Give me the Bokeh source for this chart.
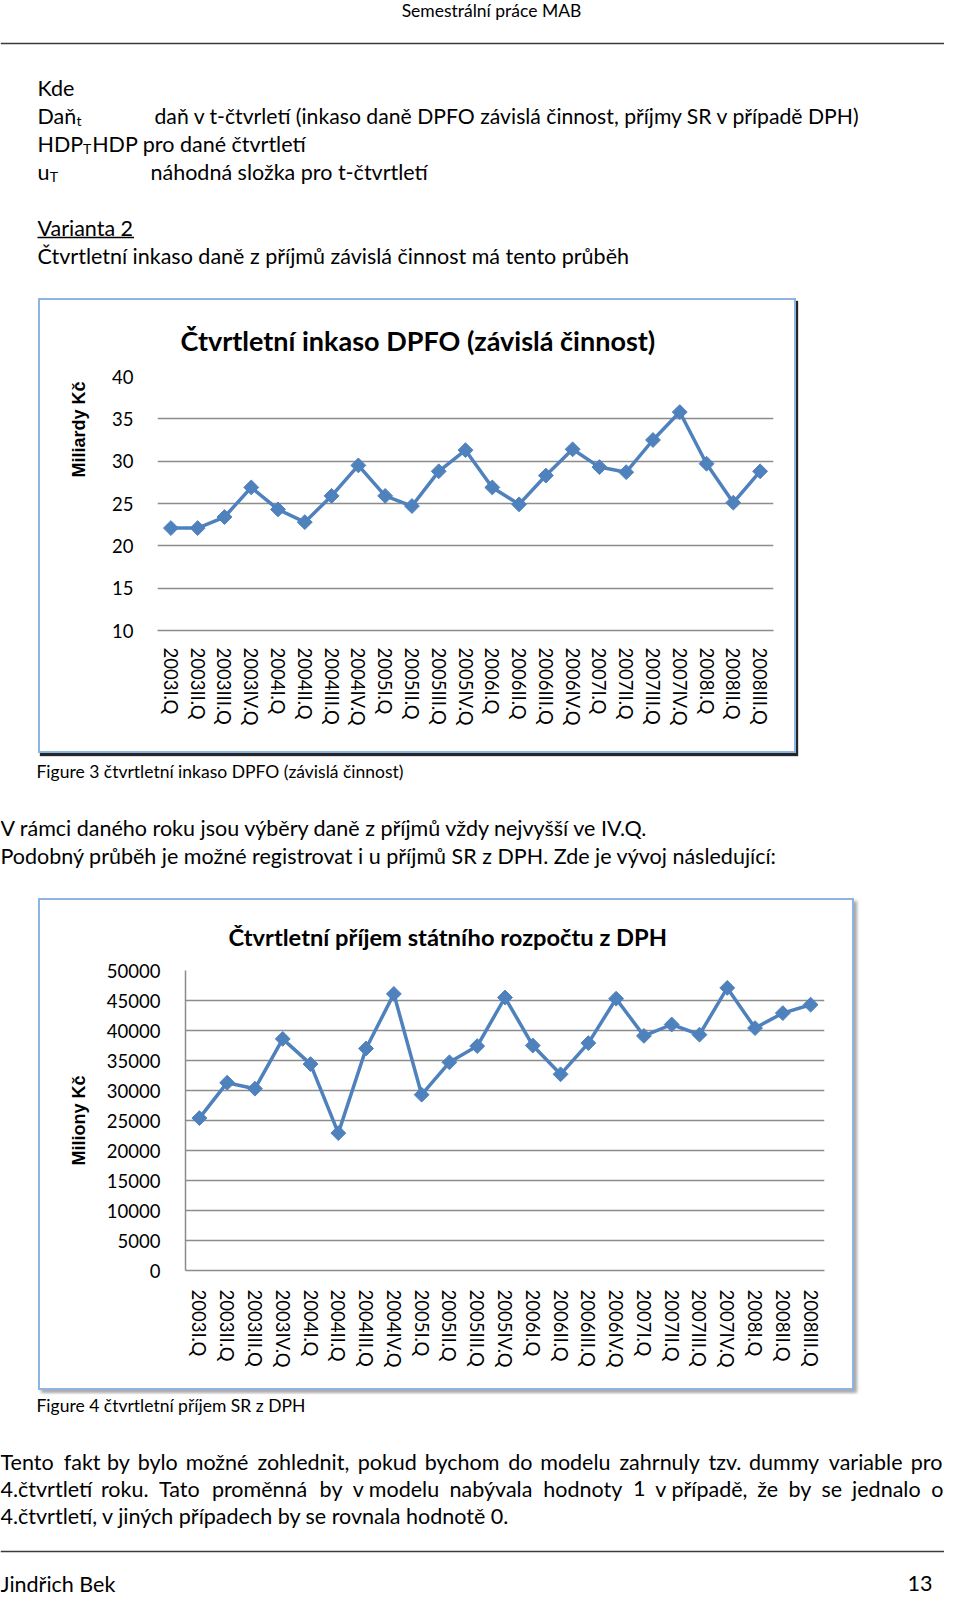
import math
import unicodedata
from bokeh.plotting import figure
from bokeh.models import Range1d, FactorRange, FixedTicker, Spacer, Title
from bokeh.layouts import column, row
from bokeh.core.properties import value
from bokeh.embed import file_html
from bokeh.resources import INLINE

# ---------------- data ----------------
quarters = ["2003I.Q", "2003II.Q", "2003III.Q", "2003IV.Q",
            "2004I.Q", "2004II.Q", "2004III.Q", "2004IV.Q",
            "2005I.Q", "2005II.Q", "2005III.Q", "2005IV.Q",
            "2006I.Q", "2006II.Q", "2006III.Q", "2006IV.Q",
            "2007I.Q", "2007II.Q", "2007III.Q", "2007IV.Q",
            "2008I.Q", "2008II.Q", "2008III.Q"]
dpfo_values = [22.1, 22.1, 23.4, 26.9, 24.3, 22.8, 25.9, 29.5, 25.9, 24.7, 28.8, 31.3,
               26.9, 24.9, 28.3, 31.4, 29.3, 28.7, 32.5, 35.8, 29.7, 25.1, 28.8]
dph_values = [25400, 31300, 30300, 38600, 34400, 22900, 37000, 46100, 29300, 34700, 37400, 45500,
              37500, 32700, 37900, 45300, 39100, 41000, 39300, 47100, 40400, 42900, 44300]
dpfo_ticks = [10, 15, 20, 25, 30, 35, 40]
dph_ticks = [0, 5000, 10000, 15000, 20000, 25000, 30000, 35000, 40000, 45000, 50000]

title1 = "Čtvrtletní inkaso DPFO (závislá činnost)"
title2 = "Čtvrtletní příjem státního rozpočtu z DPH"
ylabel1 = "Miliardy Kč"
ylabel2 = "Miliony Kč"

# ---------------- styles ----------------
FONT = "Lato"
BODY = 21.5
SMALL = 17.5
W = 944
LINE_COLOR = "#4F81BD"
GRID_COLOR = "#8C8C8C"

LATO = {
    'a': .50, 'b': .57, 'c': .46, 'd': .57, 'e': .53, 'f': .32, 'g': .51, 'h': .57, 'i': .24,
    'j': .24, 'k': .50, 'l': .24, 'm': .86, 'n': .57, 'o': .57, 'p': .57, 'q': .57, 'r': .38,
    's': .43, 't': .35, 'u': .57, 'v': .51, 'w': .78, 'x': .50, 'y': .51, 'z': .46,
    'A': .68, 'B': .65, 'C': .68, 'D': .74, 'E': .57, 'F': .55, 'G': .73, 'H': .76, 'I': .28,
    'J': .38, 'K': .67, 'L': .50, 'M': .92, 'N': .76, 'O': .80, 'P': .62, 'Q': .80, 'R': .64,
    'S': .52, 'T': .58, 'U': .74, 'V': .68, 'W': 1.0, 'X': .66, 'Y': .62, 'Z': .60,
    '.': .22, ',': .22, ' ': .19, '(': .30, ')': .30, '-': .34, ':': .22,
}


def est(s, size):
    total = 0.0
    for ch in s:
        base = unicodedata.normalize("NFD", ch)[0]
        if base.isdigit():
            total += .58
        else:
            total += LATO.get(base, .55)
    return total * size


def text_fig(h):
    p = figure(width=W, height=h, x_range=Range1d(0, W), y_range=Range1d(h, 0),
               x_axis_type=None, y_axis_type=None, output_backend="svg",
               toolbar_location=None, min_border=0)
    p.outline_line_color = None
    p.background_fill_color = "white"
    p.border_fill_color = "white"
    return p


def put(p, x, y, s, size=BODY, align="left", bold=False):
    p.text(x=[x], y=[y], text=[s], text_font=value(FONT), text_font_size=f"{size}px",
           text_align=align, text_baseline="middle", text_color="black",
           text_font_style="bold" if bold else "normal")


def put_sub(p, x, y, base, sub, size=BODY):
    put(p, x, y, base, size)
    sx = x + est(base, size)
    put(p, sx, y + 5, sub, 14)
    return sx + est(sub, 14)


def justify(p, units, y, left, right, size=BODY):
    widths = [est(u, size) for u in units]
    gap = (right - left - sum(widths)) / (len(units) - 1)
    xs = []
    x = left
    for w in widths:
        xs.append(x)
        x += w + gap
    p.text(x=xs, y=[y] * len(units), text=units, text_font=value(FONT),
           text_font_size=f"{size}px", text_align="left", text_baseline="middle",
           text_color="black")


def hrule(p, y, x0=0, x1=W, color="#3a3a3a", width=1.5):
    p.segment(x0=[x0], y0=[y], x1=[x1], y1=[y], line_color=color, line_width=width)


# ---------------- segment 1: header text ----------------
s1 = text_fig(298)
put(s1, 491, 10, "Semestrální práce MAB", SMALL, align="center")
hrule(s1, 43)
put(s1, 37, 87, "Kde")
put_sub(s1, 37, 115, "Daň", "t")
put(s1, 154, 115, "daň v t-čtvrletí (inkaso daně DPFO závislá činnost, příjmy SR v případě DPH)",
    21.2)
nx = put_sub(s1, 37, 143, "HDP", "T")
put(s1, nx + 1, 143, "HDP pro dané čtvrtletí")
put_sub(s1, 37, 171, "u", "T")
put(s1, 150, 171, "náhodná složka pro t-čtvrtletí")
put(s1, 37, 227, "Varianta 2")
hrule(s1, 237, 37, 37 + est("Varianta 2", BODY), color="black", width=1.3)
put(s1, 37, 255, "Čtvrtletní inkaso daně z příjmů závislá činnost má tento průběh")


# ---------------- charts ----------------
def make_chart(width, height, mins, yr, ticks, vals, title, title_size, title_offset,
               title_standoff, yaxis_line, xlab_standoff):
    left, right, top, bottom = mins
    p = figure(width=width, height=height,
               x_range=FactorRange(*quarters), y_range=Range1d(*yr),
               output_backend="svg", toolbar_location=None,
               min_border_left=left, min_border_right=right,
               min_border_top=top, min_border_bottom=bottom)
    p.outline_line_color = None
    p.background_fill_color = "white"
    p.border_fill_color = "white"
    p.xgrid.visible = False
    p.ygrid.grid_line_color = GRID_COLOR
    p.ygrid.grid_line_width = 1.5
    p.yaxis.ticker = FixedTicker(ticks=ticks)
    for ax in (p.xaxis[0], p.yaxis[0]):
        ax.major_tick_out = 0
        ax.major_tick_in = 0
        ax.minor_tick_out = 0
        ax.minor_tick_in = 0
        ax.major_label_text_font = FONT
        ax.major_label_text_font_size = "18.5px"
        ax.major_label_text_color = "black"
    p.xaxis.axis_line_color = GRID_COLOR
    p.xaxis.axis_line_width = 1.5
    p.xaxis.major_label_orientation = "vertical"
    p.xaxis.major_label_standoff = xlab_standoff
    p.yaxis.major_label_standoff = 24
    if yaxis_line:
        p.yaxis.axis_line_color = GRID_COLOR
        p.yaxis.axis_line_width = 1.5
    else:
        p.yaxis.axis_line_color = None

    p.line(x=quarters, y=vals, line_color=LINE_COLOR, line_width=3.5)
    p.scatter(x=quarters, y=vals, marker="square", angle=math.pi / 4, size=10.5,
              fill_color=LINE_COLOR, line_color=LINE_COLOR)

    p.title.text = title
    p.title.align = "left"
    p.title.offset = title_offset
    p.title.standoff = title_standoff
    p.title.text_font = FONT
    p.title.text_font_style = "bold"
    p.title.text_font_size = f"{title_size}px"
    p.title.text_color = "black"
    return p


c1 = make_chart(758, 455, (117, 25, 76, 125), (10, 40), dpfo_ticks, dpfo_values,
                title1, 27, 23, 40, False, 17)
c1.add_layout(Title(text=ylabel1, align="right", offset=5, standoff=42,
                    text_font="Liberation Sans", text_font_style="bold",
                    text_font_size="18px", text_color="black"), "left")
c1.styles = {"border": "2px solid #8EB4E3", "box-shadow": "2px 3px 1px rgba(0,0,0,0.85)"}

c2 = make_chart(816, 492, (145, 32, 70, 122), (0, 50000), dph_ticks, dph_values,
                title2, 23.7, 43, 39, True, 19)
c2.yaxis.axis_label = ylabel2
c2.yaxis.axis_label_text_font = "Liberation Sans"
c2.yaxis.axis_label_text_font_style = "bold"
c2.yaxis.axis_label_text_font_size = "18px"
c2.yaxis.axis_label_text_color = "black"
c2.yaxis.axis_label_standoff = 15
c2.yaxis.major_label_standoff = 25
c2.styles = {"border": "2px solid #8EB4E3", "box-shadow": "3px 3px 3px rgba(0,0,0,0.35)"}

# ---------------- segment 3 ----------------
s3 = text_fig(141)
put(s3, 36, 14, "Figure 3 čtvrtletní inkaso DPFO (závislá činnost)", SMALL)
put(s3, 0, 70, "V rámci daného roku jsou výběry daně z příjmů vždy nejvyšší ve IV.Q.")
put(s3, 0, 98, "Podobný průběh je možné registrovat i u příjmů SR z DPH.  Zde je vývoj následující:")

# ---------------- segment 5 ----------------
s5 = text_fig(203)
put(s5, 36, 11, "Figure 4 čtvrtletní příjem SR z DPH", SMALL)
line1 = ["Tento", "fakt", "by", "bylo", "možné", "zohlednit,", "pokud", "bychom", "do",
         "modelu", "zahrnuly", "tzv.", "dummy", "variable", "pro"]
line2 = ["4.čtvrtletí", "roku.", "Tato", "proměnná", "by", "v modelu", "nabývala", "hodnoty",
         "1", "v případě,", "že", "by", "se", "jednalo", "o"]
justify(s5, line1, 67, 0, 943)
justify(s5, line2, 94, 0, 943)
put(s5, 0, 121, "4.čtvrtletí, v jiných případech by se rovnala hodnotě 0.")
hrule(s5, 157)
put(s5, 0, 189, "Jindřich Bek")
put(s5, 932, 189, "13", align="right")

layout = column(
    s1,
    row(Spacer(width=38, height=459), c1),
    s3,
    row(Spacer(width=38, height=496), c2),
    s5,
)

with open("out.html", "w") as f:
    f.write(file_html(layout, INLINE))
